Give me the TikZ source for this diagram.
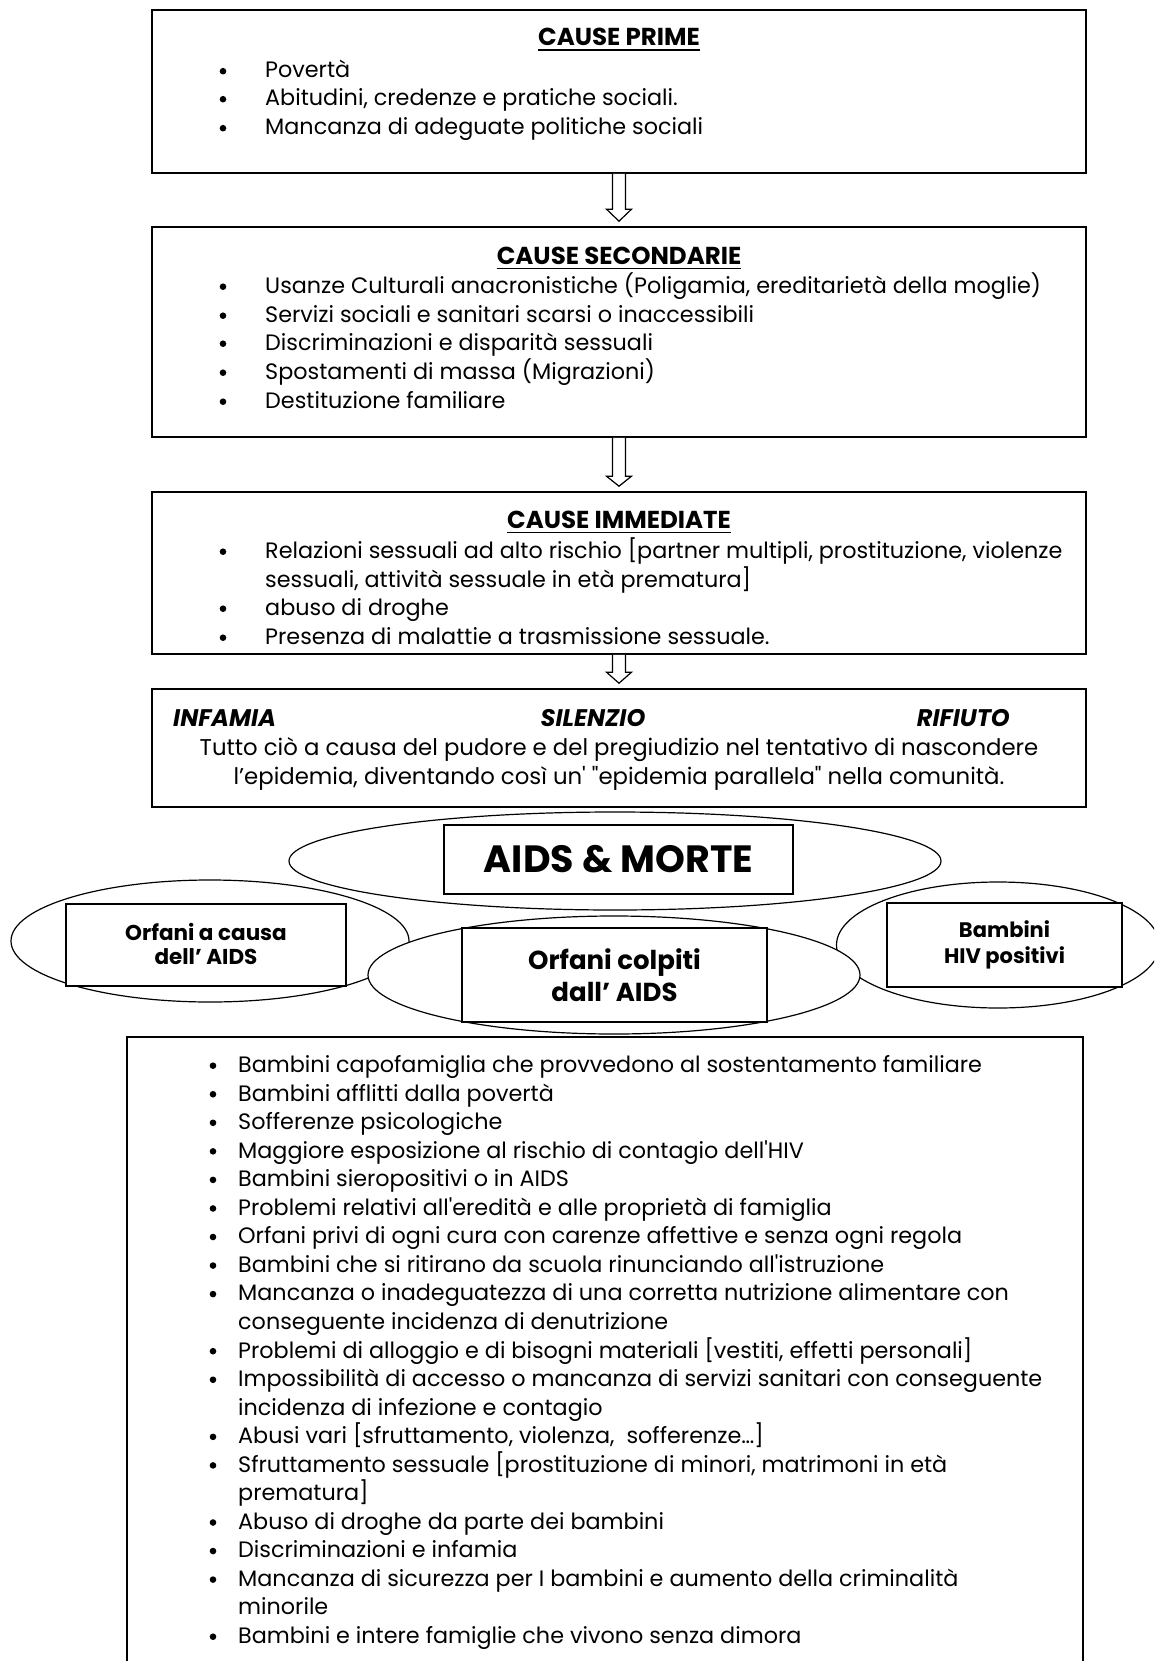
\documentclass[tikz,border=0pt]{standalone}
\usepackage{fontspec}
\setmainfont{Poppins}[Ligatures=TeXOff]
\usetikzlibrary{shapes.geometric,calc}
\newcommand\bodyf{\fontsize{22.3}{28}\selectfont}
\newcommand\ttlf{\fontsize{24.5}{28}\selectfont\bfseries}
\tikzset{
  box/.style={draw, line width=1.6pt, fill=white, inner sep=0pt},
  ibox/.style={draw, line width=1.6pt, fill=white, inner sep=0pt, align=center, font=\bfseries},
  ell/.style={draw, ellipse, line width=1.2pt, fill=white, inner sep=0pt},
  txt/.style={anchor=base west, inner sep=0pt, font=\bodyf},
  dot/.style={circle, fill=black, inner sep=0pt, minimum size=6.6pt},
  ttl/.style={anchor=base, inner sep=0pt, font=\ttlf},
  uline/.style={line width=1.8pt},
  ctr/.style={anchor=base, inner sep=0pt, font=\fontsize{22.8}{28}\selectfont},
  kw/.style={inner sep=0pt, font=\fontsize{24}{28}\selectfont\bfseries\itshape},
  blockarrow/.style={draw, line width=1.2pt, fill=white, line join=miter}
}
\newcommand\arrowdown[3]{% from node, to node, head length
  \draw[blockarrow] ($(#1.south)+(-6.5,0)$) -- ($(#2.north)+(-6.5,-#3)$) -- ($(#2.north)+(-12.5,-#3)$)
   -- ($(#2.north)+(0,-5)$) -- ($(#2.north)+(12.5,-#3)$) -- ($(#2.north)+(6.5,-#3)$) -- ($(#1.south)+(6.5,0)$);
}
% bullet line: name, x of dot, x of text, baseline, text
\newcommand\bitem[5]{%
  \node[dot] (#1d) at (#2,#4-6.8) {};
  \node[txt] (#1) at (#3,#4) {#5};
}
\newcommand\underl[1]{\draw[uline] ($(#1.base west)+(0,4)$) -- ($(#1.base east)+(0,4)$);}
\begin{document}
\begin{tikzpicture}[x=1pt,y=-1pt]
\useasboundingbox (0,0) rectangle (1154,1661);
\clip (0,0) rectangle (1154,1661);
\fill[white] (0,0) rectangle (1154,1661);

% ---------- box 1
\node[box, minimum width=934pt, minimum height=163pt] (b1) at (619,91.5) {};
\node[ttl] (t1) at (619,46) {CAUSE PRIME};
\underl{t1}
\bitem{b1i1}{223}{265}{78}{Povertà}
\bitem{b1i2}{223}{265}{106}{Abitudini, credenze e pratiche sociali.}
\bitem{b1i3}{223}{265}{135}{Mancanza di adeguate politiche sociali}

% ---------- box 2
\node[box, minimum width=934pt, minimum height=210pt] (b2) at (619,332) {};
\node[ttl] (t2) at (619,264.5) {CAUSE SECONDARIE};
\underl{t2}
\bitem{b2i1}{223}{265}{293.5}{Usanze Culturali anacronistiche (Poligamia, ereditarietà della moglie)}
\bitem{b2i2}{223}{265}{322.5}{Servizi sociali e sanitari scarsi o inaccessibili}
\bitem{b2i3}{223}{265}{350.5}{Discriminazioni e disparità sessuali}
\bitem{b2i4}{223}{265}{379.5}{Spostamenti di massa (Migrazioni)}
\bitem{b2i5}{223}{265}{408.5}{Destituzione familiare}

% ---------- box 3
\node[box, minimum width=934pt, minimum height=162pt] (b3) at (619,573) {};
\node[ttl] (t3) at (619,528.5) {CAUSE IMMEDIATE};
\underl{t3}
\bitem{b3i1}{223}{265}{558.5}{Relazioni sessuali ad alto rischio [partner multipli, prostituzione, violenze}
\node[txt] (b3i1b) at (265,587.5) {sessuali, attività sessuale in età prematura]};
\bitem{b3i2}{223}{265}{615.5}{abuso di droghe}
\bitem{b3i3}{223}{265}{644.5}{Presenza di malattie a trasmissione sessuale.}

% ---------- box 4
\node[box, minimum width=934pt, minimum height=118pt] (b4) at (619,748) {};
\node[kw, anchor=base west] (w1) at (173,726) {INFAMIA};
\node[kw, anchor=base] (w2) at (593,726) {SILENZIO};
\node[kw, anchor=base east] (w3) at (1010,726) {RIFIUTO};
\node[ctr] (b4l1) at (619,755.5) {Tutto ciò a causa del pudore e del pregiudizio nel tentativo di nascondere};
\node[ctr] (b4l2) at (619,784.5) {l’epidemia, diventando così un' "epidemia parallela" nella comunità.};

% ---------- arrows
\arrowdown{b1}{b2}{17}
\arrowdown{b2}{b3}{15}
\arrowdown{b3}{b4}{16}

% ---------- ellipses
\node[ell, minimum width=398pt, minimum height=122pt] (e1) at (210,941) {};
\node[ell, minimum width=323pt, minimum height=126pt] (e3) at (998,945) {};
\node[ell, minimum width=652pt, minimum height=98pt] (e0) at (615,861) {};
\node[ell, minimum width=492pt, minimum height=118pt] (e2) at (614,975) {};

\node[ibox, minimum width=349pt, minimum height=69pt, font=\bfseries\fontsize{38}{44}\selectfont] (a0) at (618.5,859.5) {\raisebox{-2pt}{AIDS \& MORTE}};
\node[ibox, minimum width=280pt, minimum height=82pt, font=\bfseries\fontsize{21.5}{24}\selectfont] (a1) at (206,945) {\raisebox{2pt}{Orfani a causa}\\\raisebox{2pt}{dell’ AIDS}};
\node[ibox, minimum width=305pt, minimum height=94pt, font=\bfseries\fontsize{26}{32}\selectfont] (a2) at (614.5,975) {Orfani colpiti\\dall’ AIDS};
\node[ibox, minimum width=235pt, minimum height=84pt, font=\bfseries\fontsize{21}{26}\selectfont] (a3) at (1004.5,945) {Bambini\\HIV positivi};

% ---------- bottom box
\node[box, anchor=north west, minimum width=956pt, minimum height=700pt] (b5) at (126,1036) {};
\foreach \t/\hb [count=\i from 0] in {
 {Bambini capofamiglia che provvedono al sostentamento familiare}/1,
 {Bambini afflitti dalla povertà}/1,
 {Sofferenze psicologiche}/1,
 {Maggiore esposizione al rischio di contagio dell'HIV}/1,
 {Bambini sieropositivi o in AIDS}/1,
 {Problemi relativi all'eredità e alle proprietà di famiglia}/1,
 {Orfani privi di ogni cura con carenze affettive e senza ogni regola}/1,
 {Bambini che si ritirano da scuola rinunciando all'istruzione}/1,
 {Mancanza o inadeguatezza di una corretta nutrizione alimentare con}/1,
 {conseguente incidenza di denutrizione}/0,
 {Problemi di alloggio e di bisogni materiali [vestiti, effetti personali]}/1,
 {Impossibilità di accesso o mancanza di servizi sanitari con conseguente}/1,
 {incidenza di infezione e contagio}/0,
 {Abusi vari [sfruttamento, violenza,\ \ sofferenze…]}/1,
 {Sfruttamento sessuale [prostituzione di minori, matrimoni in età}/1,
 {prematura]}/0,
 {Abuso di droghe da parte dei bambini}/1,
 {Discriminazioni e infamia}/1,
 {Mancanza di sicurezza per I bambini e aumento della criminalità}/1,
 {minorile}/0,
 {Bambini e intere famiglie che vivono senza dimora}/1}{
  \pgfmathsetmacro\yy{1072.5+28.55*\i}
  \node[txt] (bt\i) at (238,\yy) {\t};
  \ifnum\hb=1 \node[dot] (bd\i) at (213,\yy-6.8) {};\fi
}
\end{tikzpicture}
\end{document}
